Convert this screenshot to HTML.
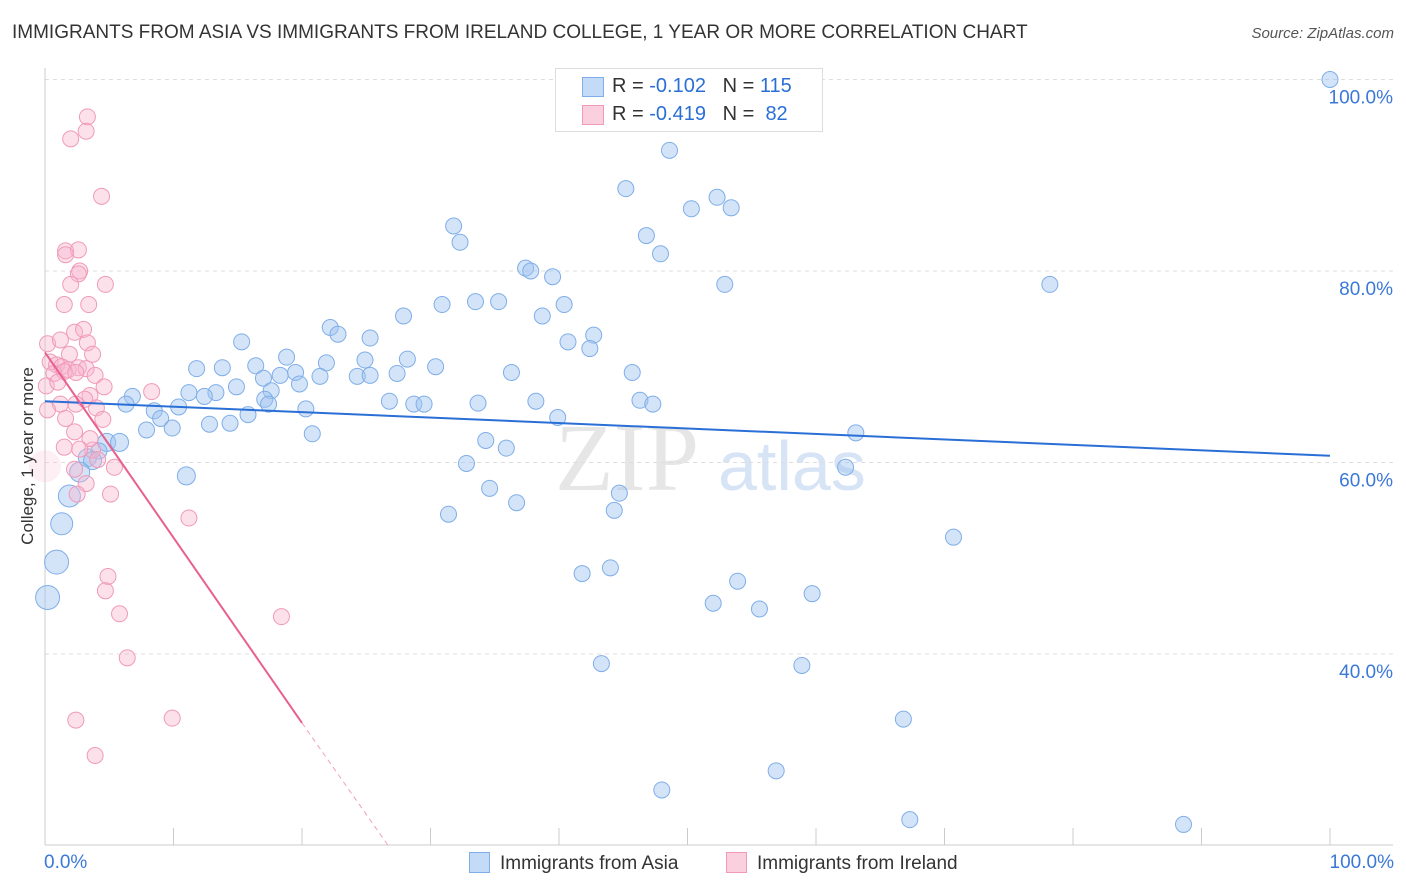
<!DOCTYPE html>
<html><head><meta charset="utf-8">
<style>
body{margin:0;background:#fff;font-family:"Liberation Sans",sans-serif;}
#wrap{position:relative;width:1406px;height:892px;overflow:hidden;}
.t{position:absolute;white-space:nowrap;}
</style></head>
<body>
<div id="wrap">
<div class="t" style="left:12px;top:22px;font-size:19px;color:#333;">IMMIGRANTS FROM ASIA VS IMMIGRANTS FROM IRELAND COLLEGE, 1 YEAR OR MORE CORRELATION CHART</div>
<div class="t" style="right:12px;top:25px;font-size:15px;color:#555;font-style:italic;">Source: ZipAtlas.com</div>
<svg id="svg" width="1406" height="892" style="position:absolute;left:0;top:0"></svg>
</div>
<script>
const asiaX=[100,48.6,45.2,52.3,50.3,53.4,31.8,32.3,46.8,47.9,37.4,37.8,39.5,52.9,78.2,30.9,33.5,35.3,40.4,38.7,27.9,22.2,22.8,25.3,15.3,40.7,42.7,42.4,18.8,16.4,11.8,13.8,21.9,24.9,28.2,30.4,36.3,45.7,19.5,18.3,17.0,24.3,25.3,27.4,21.4,11.2,13.3,14.9,12.4,6.8,6.3,17.6,19.8,17.1,26.8,38.2,46.3,10.4,8.5,9.0,28.7,29.5,33.7,47.3,17.4,20.3,15.8,12.8,14.4,9.9,7.9,20.8,39.9,34.3,35.9,63.1,4.8,5.8,4.2,3.3,3.7,32.8,62.3,2.7,11.0,34.6,44.7,36.7,44.3,31.4,1.9,1.3,70.7,0.9,0.2,41.8,44.0,53.9,52.0,55.6,59.7,43.3,58.9,66.8,56.9,48.0,67.3,88.6];
const asiaY=[100,92.6,88.6,87.7,86.5,86.6,84.7,83.0,83.7,81.8,80.3,80.0,79.4,78.6,78.6,76.5,76.8,76.8,76.5,75.3,75.3,74.1,73.4,73.0,72.6,72.6,73.3,71.9,71.0,70.1,69.8,69.9,70.4,70.7,70.8,70.0,69.4,69.4,69.4,69.1,68.8,69.0,69.1,69.3,69.0,67.3,67.3,67.9,66.9,66.9,66.1,67.5,68.2,66.6,66.4,66.4,66.5,65.8,65.4,64.6,66.1,66.1,66.2,66.1,66.1,65.6,65.0,64.0,64.1,63.6,63.4,63.0,64.7,62.3,61.5,63.1,62.1,62.1,61.2,60.5,60.2,59.9,59.5,59.0,58.6,57.3,56.8,55.8,55.0,54.6,56.5,53.6,52.2,49.6,45.9,48.4,49.0,47.6,45.3,44.7,46.3,39.0,38.8,33.2,27.8,25.8,22.7,22.2];
const asiaR=[8,8,8,8,8,8,8,8,8,8,8,8,8,8,8,8,8,8,8,8,8,8,8,8,8,8,8,8,8,8,8,8,8,8,8,8,8,8,8,8,8,8,8,8,8,8,8,8,8,8,8,8,8,8,8,8,8,8,8,8,8,8,8,8,8,8,8,8,8,8,8,8,8,8,8,8,9,9,8,9,9,8,8,10,9,8,8,8,8,8,11,11,8,12,12,8,8,8,8,8,8,8,8,8,8,8,8,8];
const irX=[3.3,3.2,2.0,4.4,1.6,2.6,1.6,2.7,2.6,2.0,4.7,1.5,3.4,2.3,3.0,0.2,1.2,3.3,1.9,3.7,0.4,0.9,1.3,1.8,2.6,3.2,0.7,1.5,2.4,3.9,0.1,1.0,4.6,8.3,3.5,3.1,1.2,2.4,4.0,4.5,0.2,1.6,2.3,3.7,3.5,1.5,2.7,4.1,5.4,2.3,3.2,2.5,5.1,11.2,4.9,4.7,5.8,18.4,6.4,2.4,9.9,3.9,0];
const irY=[96.1,94.6,93.8,87.8,82.1,82.2,81.7,80.0,79.7,78.6,78.6,76.5,76.5,73.6,73.9,72.4,72.8,72.5,71.3,71.3,70.5,70.2,70.0,69.7,69.9,69.8,69.3,69.5,69.4,69.1,68.0,68.4,67.9,67.4,67.0,66.6,66.1,66.1,65.7,64.5,65.5,64.6,63.2,61.3,62.5,61.6,61.4,60.3,59.5,59.3,57.8,56.7,56.7,54.2,48.1,46.6,44.2,43.9,39.6,33.1,33.3,29.4,59.6];
const irR=[8,8,8,8,8,8,8,8,8,8,8,8,8,8,8,8,8,8,8,8,8,8,8,8,8,8,8,8,8,8,8,8,8,8,8,8,8,8,8,8,8,8,8,8,8,8,8,8,8,8,8,8,8,8,8,8,8,8,8,8,8,8,16];
const yTicks=[40,60,80,100];
const asiaTrend=[[0,66.4],[100,60.7]];
const irTrend=[[0,71.5],[20,32.8],[26.7,20]];

const svg=document.getElementById('svg');
const NS='http://www.w3.org/2000/svg';
const X=v=>45+v*12.85, Y=v=>79.5+(100-v)*9.575;
function mk(t,a){const e=document.createElementNS(NS,t);for(const k in a)e.setAttribute(k,a[k]);svg.appendChild(e);return e;}
let w=mk('text',{x:555,y:490,'font-size':96,fill:'#e6e6e6','font-family':'Liberation Serif, serif'});w.textContent='ZIP';


let w2=mk('text',{x:718,y:490,'font-size':70,fill:'#d6e4f5','font-family':'Liberation Sans, sans-serif'});w2.textContent='atlas';


yTicks.forEach(v=>{
 const g=mk('line',{x1:45,x2:1393,y1:Y(v),y2:Y(v),stroke:'#ddd','stroke-dasharray':'4,4'});
 
 
 const t=mk('text',{x:1393,y:Y(v)+24,'text-anchor':'end','font-size':19,fill:'#3b78d8'});t.textContent=v.toFixed(1)+'%';
 
 
});
const ax=mk('line',{x1:45,x2:1393,y1:845,y2:845,stroke:'#ccc'});


const ay=mk('line',{x1:45,x2:45,y1:68,y2:845,stroke:'#ccc'});


for(let i=0;i<=10;i++){const tk=mk('line',{x1:X(i*10),x2:X(i*10),y1:828,y2:845,stroke:'#ccc'});
 
 }
asiaX.forEach((v,i)=>{const c=mk('circle',{cx:X(v),cy:Y(asiaY[i]),r:asiaR[i],fill:'rgba(160,196,240,0.45)',stroke:'#7faee8','stroke-width':1});
 
 });
irX.forEach((v,i)=>{const c=mk('circle',{cx:X(v),cy:Y(irY[i]),r:irR[i],fill:i==irX.length-1?'rgba(248,190,210,0.25)':'rgba(248,180,204,0.4)',stroke:i==irX.length-1?'none':'#f09ab8','stroke-width':1});
 
 });
const bl=mk('line',{x1:X(asiaTrend[0][0]),y1:Y(asiaTrend[0][1]),x2:X(asiaTrend[1][0]),y2:Y(asiaTrend[1][1]),stroke:'#2a6fd6','stroke-width':2});


const pl=mk('line',{x1:X(irTrend[0][0]),y1:Y(irTrend[0][1]),x2:X(irTrend[1][0]),y2:Y(irTrend[1][1]),stroke:'#e8608e','stroke-width':2});


const pd=mk('line',{x1:X(irTrend[1][0]),y1:Y(irTrend[1][1]),x2:X(irTrend[2][0]),y2:Y(irTrend[2][1]),stroke:'#f0a0bc','stroke-width':1,'stroke-dasharray':'5,4'});


</script>
<div class="t" style="left:28px;top:456px;font-size:17px;color:#333;transform:translate(-50%,-50%) rotate(-90deg);">College, 1 year or more</div>
<div class="t" style="left:44px;top:852px;font-size:19px;color:#3b78d8;">0.0%</div>
<div class="t" style="right:12px;top:852px;font-size:19px;color:#3b78d8;">100.0%</div>
<div style="position:absolute;left:555px;top:68px;width:266px;height:62px;border:1px solid #ddd;background:#fff;font-size:20px;">
 <div style="position:absolute;left:26px;top:8px;width:20px;height:18px;background:#c4dbf7;border:1px solid #7faee8;"></div>
 <div class="t" style="left:56px;top:6px;color:#333;">R = <span style="color:#2a6fd6">-0.102</span>&nbsp;&nbsp;&nbsp;N = <span style="color:#2a6fd6">115</span></div>
 <div style="position:absolute;left:26px;top:36px;width:20px;height:18px;background:#fbd0de;border:1px solid #f09ab8;"></div>
 <div class="t" style="left:56px;top:34px;color:#333;">R = <span style="color:#2a6fd6">-0.419</span>&nbsp;&nbsp;&nbsp;N = &nbsp;<span style="color:#2a6fd6">82</span></div>
</div>
<div style="position:absolute;left:469px;top:852px;font-size:19px;color:#333;">
 <span style="display:inline-block;width:19px;height:19px;background:#c4dbf7;border:1px solid #7faee8;vertical-align:-4px;margin-right:10px;"></span>Immigrants from Asia</div>
<div style="position:absolute;left:726px;top:852px;font-size:19px;color:#333;">
 <span style="display:inline-block;width:19px;height:19px;background:#fbd0de;border:1px solid #f09ab8;vertical-align:-4px;margin-right:10px;"></span>Immigrants from Ireland</div>
</body></html>
